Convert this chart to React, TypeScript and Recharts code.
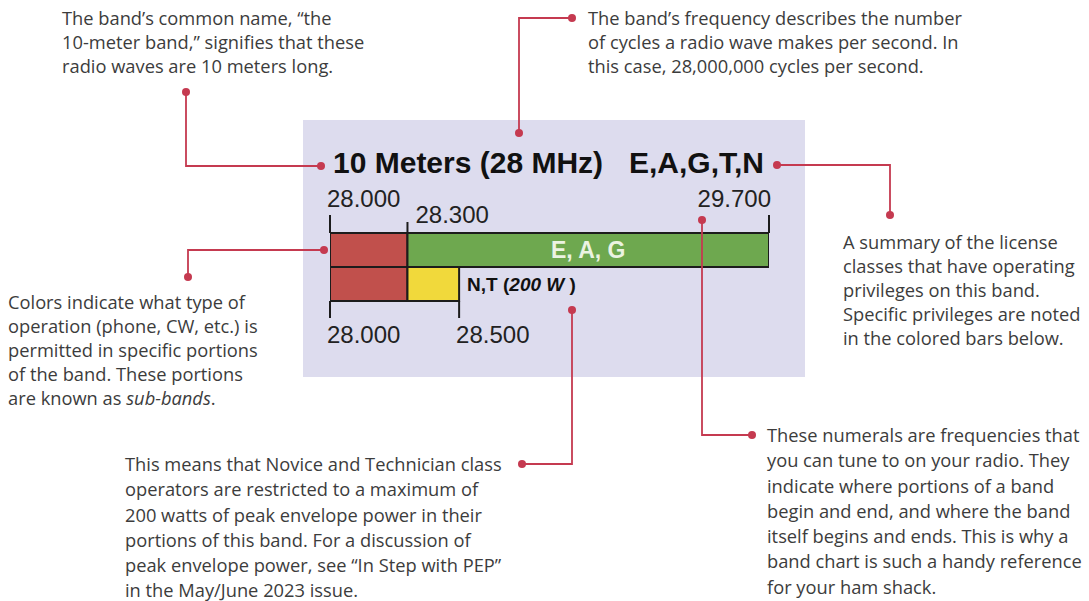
import React from "react";
import { ComposedChart, Bar, XAxis, YAxis, Cell, LabelList } from "recharts";

// ---- data ----
const rowNames = ["all", "nt"];
const segAStart = [28.0, 28.0];
const segAEnd = [28.3, 28.3];
const segBStart = [28.3, 28.3];
const segBEnd = [29.7, 28.5];
const segBLabels = ["E, A, G", "N,T"];
const powerNotes = ["", "200 W"];
const topTicks = [28.0, 28.3, 29.7];
const bottomTicks = [28.0, 28.5];
const bandDomain: [number, number] = [28.0, 29.7];
const bandTitle = "10 Meters (28 MHz)";
const bandClasses = "E,A,G,T,N";

const noteTopLeft = ["The band\u2019s common name, \u201cthe", "10-meter band,\u201d signifies that these", "radio waves are 10 meters long."];
const noteTopRight = ["The band\u2019s frequency describes the number", "of cycles a radio wave makes per second. In", "this case, 28,000,000 cycles per second."];
const noteLeft = ["Colors indicate what type of", "operation (phone, CW, etc.) is", "permitted in specific portions", "of the band. These portions"];
const noteLeftLast = ["are known as ", "sub-bands", "."];
const noteRight = ["A summary of the license", "classes that have operating", "privileges on this band.", "Specific privileges are noted", "in the colored bars below."];
const noteBottom = ["This means that Novice and Technician class", "operators are restricted to a maximum of", "200 watts of peak envelope power in their", "portions of this band. For a discussion of", "peak envelope power, see \u201cIn Step with PEP\u201d", "in the May/June 2023 issue."];
const noteBottomRight = ["These numerals are frequencies that", "you can tune to on your radio. They", "indicate where portions of a band", "begin and end, and where the band", "itself begins and ends. This is why a", "band chart is such a handy reference", "for your ham shack."];

const data = rowNames.map((row, i) => ({
  row,
  a: [segAStart[i], segAEnd[i]],
  b: [segBStart[i], segBEnd[i]],
  label: segBLabels[i],
}));

// ---- styles ----
const RED = "#c1504c";
const SEG_B_COLORS = ["#6ea84f", "#f1d93b"];
const OUTLINE = "#1c1c1c";
const ACCENT = "#c53a50";
const NUM_FONT = "'Liberation Sans', Arial, sans-serif";
const NOTE_FONT = "'Open Sans', sans-serif";
const NOTE_COLOR = "#3c3c3c";

const TopTick = (props: any) => {
  const { x, y, payload } = props;
  const v = payload.value as number;
  const isStart = v === bandDomain[0];
  const isEnd = v === bandDomain[1];
  const len = isStart || isEnd ? 18 : 11;
  let tx = x + 8;
  let ty = y - 10;
  let anchor: any = "start";
  if (isStart) {
    tx = x - 3;
    ty = y - 26;
  } else if (isEnd) {
    tx = x + 2;
    ty = y - 26;
    anchor = "end";
  }
  return (
    <g>
      <line x1={x} x2={x} y1={y - len} y2={y} stroke={OUTLINE} strokeWidth={2} />
      <text x={tx} y={ty} textAnchor={anchor} fontSize={24} fontFamily={NUM_FONT} fill="#222">
        {v.toFixed(3)}
      </text>
    </g>
  );
};

const BottomTick = (props: any) => {
  const { x, y, payload } = props;
  const v = payload.value as number;
  return (
    <g>
      <line x1={x} x2={x} y1={y} y2={y + 17} stroke={OUTLINE} strokeWidth={2} />
      <text x={x - 3} y={y + 42} textAnchor="start" fontSize={24} fontFamily={NUM_FONT} fill="#222">
        {v.toFixed(3)}
      </text>
    </g>
  );
};

const SegLabel = (props: any) => {
  const { x, y, width, height, value } = props;
  const i = segBLabels.indexOf(value);
  const note = powerNotes[i];
  if (!note) {
    return (
      <text x={x + width / 2} y={y + height / 2 + 8} textAnchor="middle" fontSize={23} fontWeight="bold" fontFamily={NUM_FONT} fill="#ebf3e2">
        {value}
      </text>
    );
  }
  return (
    <text x={x + width + 8} y={y + height / 2 + 7} fontSize={19} fontWeight="bold" fontFamily={NUM_FONT} fill="#111">
      {`${value} (`}
      <tspan fontStyle="italic">{note}</tspan>
      {" )"}
    </text>
  );
};

const Note = ({ left, top, lh, lines, extra }: any) => (
  <div
    style={{
      position: "absolute",
      left,
      top,
      fontFamily: NOTE_FONT,
      fontSize: 18.3,
      lineHeight: lh + "px",
      color: NOTE_COLOR,
      whiteSpace: "nowrap",
    }}
  >
    {lines.map((l: string, i: number) => (
      <div key={i}>{l}</div>
    ))}
    {extra}
  </div>
);

const Dot = ({ cx, cy }: any) => <circle cx={cx} cy={cy} r={4} fill={ACCENT} />;

const Connector = ({ pts }: any) => (
  <g>
    <polyline points={pts.map((p: number[]) => p.join(",")).join(" ")} fill="none" stroke={ACCENT} strokeWidth={1.8} />
    <Dot cx={pts[0][0]} cy={pts[0][1]} />
    <Dot cx={pts[pts.length - 1][0]} cy={pts[pts.length - 1][1]} />
  </g>
);

export default function App() {
  return (
    <div style={{ position: "absolute", left: 0, top: 0, width: 1089, height: 601, background: "#fff", overflow: "hidden" }}>
      <div style={{ position: "absolute", left: 303, top: 120, width: 502, height: 257, background: "#dddcee" }} />
      <div style={{ position: "absolute", left: 0, top: 0 }}>
        <ComposedChart
          width={1089}
          height={601}
          data={data}
          layout="vertical"
          margin={{ top: 232, right: 320, bottom: 299, left: 330 }}
          barCategoryGap={0}
          barGap={0}
        >
          <XAxis xAxisId="top" orientation="top" type="number" domain={bandDomain} ticks={topTicks} interval={0} height={1} axisLine={false} tickLine={false} tickSize={0} tickMargin={0} tick={<TopTick />} allowDataOverflow />
          <XAxis xAxisId="bottom" orientation="bottom" type="number" domain={bandDomain} ticks={bottomTicks} interval={0} height={1} axisLine={false} tickLine={false} tickSize={0} tickMargin={0} tick={<BottomTick />} allowDataOverflow />
          <YAxis yAxisId="a" type="category" dataKey="row" hide />
          <YAxis yAxisId="b" type="category" dataKey="row" hide />
          <Bar xAxisId="top" yAxisId="a" dataKey="a" fill={RED} stroke={OUTLINE} strokeWidth={2} isAnimationActive={false} />
          <Bar xAxisId="top" yAxisId="b" dataKey="b" stroke={OUTLINE} strokeWidth={2} isAnimationActive={false}>
            {data.map((d, i) => (
              <Cell key={d.row} fill={SEG_B_COLORS[i]} />
            ))}
            <LabelList dataKey="label" content={<SegLabel />} />
          </Bar>
        </ComposedChart>
      </div>
      <Note left={62} top={6} lh={24} lines={noteTopLeft} />
      <Note left={588} top={6} lh={24} lines={noteTopRight} />
      <Note
        left={8}
        top={290}
        lh={24}
        lines={noteLeft}
        extra={
          <div>
            {noteLeftLast[0]}
            <i>{noteLeftLast[1]}</i>
            {noteLeftLast[2]}
          </div>
        }
      />
      <Note left={843} top={230} lh={24} lines={noteRight} />
      <Note left={125} top={451} lh={25.3} lines={noteBottom} />
      <Note left={767} top={422} lh={25.3} lines={noteBottomRight} />
      <svg width={1089} height={601} style={{ position: "absolute", left: 0, top: 0, pointerEvents: "none" }}>
        <text x={333} y={173} fontSize={30} fontWeight="bold" fontFamily={NUM_FONT} fill="#111">
          {bandTitle}
        </text>
        <text x={764} y={173} textAnchor="end" fontSize={30} fontWeight="bold" fontFamily={NUM_FONT} fill="#111">
          {bandClasses}
        </text>
        <Connector pts={[[186, 92], [186, 166], [321, 166]]} />
        <Connector pts={[[572, 18], [519, 18], [519, 133]]} />
        <Connector pts={[[777, 165], [890, 165], [890, 215]]} />
        <Connector pts={[[324, 250], [188, 250], [188, 277]]} />
        <Connector pts={[[702, 220], [702, 435], [752, 435]]} />
        <Connector pts={[[572, 310], [572, 464], [522, 464]]} />
      </svg>
    </div>
  );
}
